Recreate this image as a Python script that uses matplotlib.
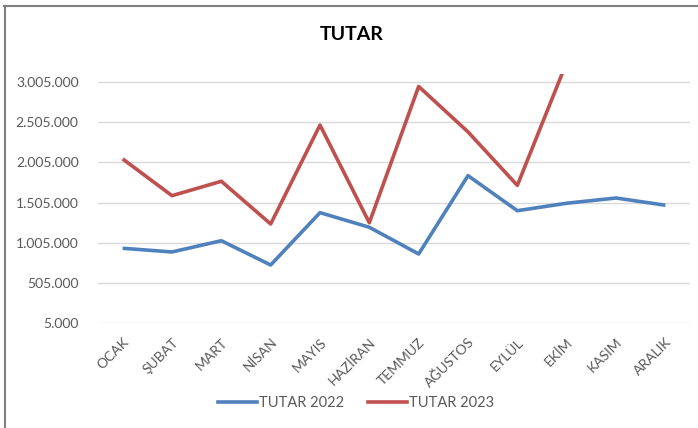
import matplotlib.pyplot as plt
from matplotlib.lines import Line2D
from matplotlib.ticker import FuncFormatter

plt.rcParams['font.family'] = ['Lato', 'DejaVu Sans']

months = ['OCAK', 'ŞUBAT', 'MART', 'NİSAN', 'MAYIS', 'HAZİRAN',
          'TEMMUZ', 'AĞUSTOS', 'EYLÜL', 'EKİM', 'KASIM', 'ARALIK']
tutar_2022 = [938000, 892000, 1032000, 730000, 1381000, 1199000,
              867000, 1841000, 1405000, 1498000, 1563000, 1473000]
tutar_2023 = [2049000, 1592000, 1771000, 1240000, 2470000, 1255000,
              2950000, 2385000, 1720000, 3250000]
yticks = [5000, 505000, 1005000, 1505000, 2005000, 2505000, 3005000]

blue = '#4F81BD'
red = '#C0504D'
grey_txt = '#595959'

fig = plt.figure(figsize=(6.98, 4.28), dpi=100)
ax = fig.add_axes([98 / 698, 1 - 323.3 / 428, 592 / 698, (323.3 - 74) / 428])

x22 = list(range(len(tutar_2022)))
x23 = list(range(len(tutar_2023)))
ax.plot(x22, tutar_2022, color=blue, lw=2.6, solid_capstyle='butt', label='TUTAR 2022', zorder=3)
ax.plot(x23, tutar_2023, color=red, lw=2.6, solid_capstyle='butt', label='TUTAR 2023', zorder=3)

ax.set_xlim(-0.5, 11.5)
ax.set_ylim(5000, 3105000)
ax.set_yticks(yticks)
ax.yaxis.set_major_formatter(FuncFormatter(lambda v, p: f'{int(v):,}'.replace(',', '.')))
ax.grid(axis='y', color='#D9D9D9', lw=1)
ax.set_axisbelow(True)
for s in ax.spines.values():
    s.set_visible(False)
ax.tick_params(length=0)
ax.tick_params(axis='y', labelsize=10, labelcolor=grey_txt, pad=14)

ax.set_xticks(x22)
ax.set_xticklabels(months, rotation=45, ha='right', rotation_mode='anchor',
                   fontsize=10, color=grey_txt)
ax.tick_params(axis='x', pad=9)
for lbl in ax.get_xticklabels():
    lbl.set_x(lbl.get_position()[0])

fig.text(352 / 698, 1 - 35 / 428, 'TUTAR', ha='center', va='center',
         fontsize=14, fontweight='bold', color='black')

handles = [Line2D([0], [0], color=blue, lw=2.6), Line2D([0], [0], color=red, lw=2.6)]
fig.legend(handles, ['TUTAR 2022', 'TUTAR 2023'], loc='center',
           bbox_to_anchor=(356 / 698, 1 - 403 / 428), ncol=2, frameon=False,
           fontsize=10.5, labelcolor=grey_txt, handlelength=2.7, handletextpad=0.15,
           columnspacing=1.6)

# outer chart border (top and left only visible)
fig.add_artist(Line2D([4 / 698, 1], [1 - 6 / 428, 1 - 6 / 428], color='#7F7F7F', lw=1.5))
fig.add_artist(Line2D([5 / 698, 5 / 698], [0, 1 - 6 / 428], color='#7F7F7F', lw=1.5))

fig.savefig('out.png', dpi=100)
